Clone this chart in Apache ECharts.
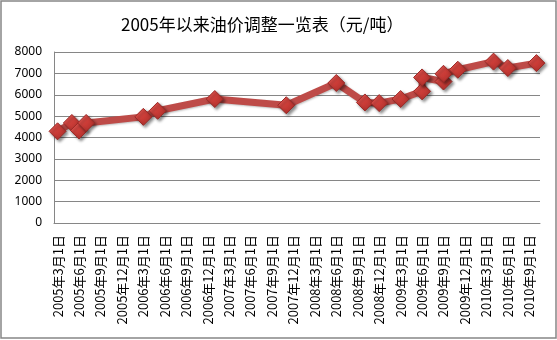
<!DOCTYPE html>
<html><head><meta charset="utf-8">
<script src="https://cdn.jsdelivr.net/npm/echarts@6/dist/echarts.min.js"></script>
<style>html,body{margin:0;padding:0;background:#fff}#c{width:557px;height:340px}</style>
</head><body><div id="c"></div>
<script>
// Monthly category slots from 2005-03 to 2010-10
var startYear = 2005, startMonth = 3, monthCount = 68;
var categories = [];
for (var k = 0; k < monthCount; k++) {
  var m = startMonth - 1 + k;
  categories.push((startYear + Math.floor(m / 12)) + '年' + (m % 12 + 1) + '月1日');
}
// Adjustment points: month (as category label) and price (元/吨)
var pointMonths = ['2005年3月1日','2005年5月1日','2005年6月1日','2005年7月1日','2006年3月1日','2006年5月1日',
  '2007年1月1日','2007年11月1日','2008年6月1日','2008年10月1日','2008年12月1日','2009年3月1日',
  '2009年6月1日','2009年6月1日','2009年9月1日','2009年9月1日','2009年11月1日','2010年4月1日','2010年6月1日','2010年10月1日'];
var prices = [4290,4680,4330,4680,4965,5250,5800,5510,6550,5640,5610,5800,6160,6810,6620,6980,7170,7550,7250,7480];
var yTicks = [0,1000,2000,3000,4000,5000,6000,7000,8000];
var titleText = '2005年以来油价调整一览表（元/吨）';

var chart = echarts.init(document.getElementById('c'));
chart.setOption({
  animation: false,
  backgroundColor: '#fff',
  title: {text: titleText, left: 116, top: 11,
    textStyle: {fontFamily: 'Noto Sans CJK SC', fontSize: 17, fontWeight: 'normal', color: '#000'}},
  graphic: [{type: 'rect', shape: {x: 1, y: 1, width: 555, height: 337},
    style: {fill: 'none', stroke: '#868686', lineWidth: 1.5}, silent: true}],
  grid: {left: 54, right: 17, top: 52, bottom: 117},
  xAxis: {type: 'category', data: categories, boundaryGap: true,
    axisLine: {show: true, lineStyle: {color: '#868686', width: 1}},
    axisTick: {show: false},
    axisLabel: {interval: 2, rotate: 90, margin: 12, fontSize: 13,
      fontFamily: 'Noto Sans CJK SC', color: '#000'}},
  yAxis: {type: 'value', min: yTicks[0], max: yTicks[yTicks.length-1], interval: 1000,
    axisLine: {show: true, lineStyle: {color: '#868686', width: 1}},
    axisTick: {show: false},
    splitLine: {lineStyle: {color: '#868686', width: 1}},
    axisLabel: {margin: 12, fontSize: 12, fontFamily: 'Noto Sans', color: '#000',
      formatter: function (v) { return String(v); }}},
  series: [{
    type: 'line',
    data: pointMonths.map(function (m, i) { return [m, prices[i]]; }),
    symbol: 'diamond', symbolSize: 17, showAllSymbol: true,
    lineStyle: {color: '#BE4B48', width: 7, shadowColor: 'rgba(0,0,0,0.25)', shadowBlur: 2, shadowOffsetX: 1, shadowOffsetY: 1},
    itemStyle: {
      color: new echarts.graphic.LinearGradient(0, 0, 1, 1, [
        {offset: 0, color: '#E8605B'}, {offset: 0.5, color: '#CC3D38'}, {offset: 1, color: '#A22A26'}]),
      borderColor: '#9A2A27', borderWidth: 1,
      shadowColor: 'rgba(0,0,0,0.45)', shadowBlur: 3, shadowOffsetX: 2, shadowOffsetY: 2},
    emphasis: {disabled: true}
  }]
});
</script></body></html>
